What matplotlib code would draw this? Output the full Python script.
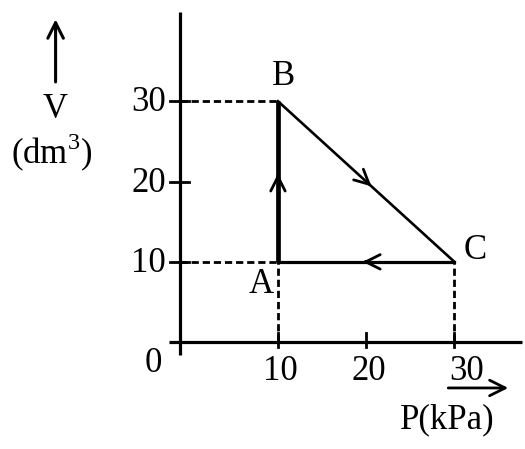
import matplotlib
matplotlib.use("Agg")
import matplotlib.pyplot as plt

# Cycle A -> B -> C -> A  (P in kPa, V in dm3)
STATES = ["A", "B", "C"]
P_VALS = [10, 10, 30]
V_VALS = [10, 30, 10]
P_TICKS = [10, 20, 30]
V_TICKS = [10, 20, 30]

FONT = "Liberation Serif"
FS = 25
K = "black"

plt.rcParams["mathtext.fontset"] = "custom"
plt.rcParams["mathtext.rm"] = FONT

fig = plt.figure(figsize=(5.25, 4.49), dpi=100)
fig.patch.set_facecolor("white")
ax = fig.add_axes([0, 0, 1, 1])
ax.set_xlim(-21.5, 38.0)
ax.set_ylim(-13.3, 42.6)
ax.axis("off")

# axes lines
ax.plot([-1.1, -1.1], [-1.6, 41.1], color=K, lw=2.3, solid_capstyle="butt")
ax.plot([-2.4, 37.7], [0, 0], color=K, lw=2.3, solid_capstyle="butt")
for v in V_TICKS:
    ax.plot([-2.2, -0.1], [v, v], color=K, lw=2.0)
    ax.text(-2.7, v - 0.2, str(v), ha="right", va="center", fontsize=FS, family=FONT)
for p in P_TICKS:
    ax.plot([p, p], [-0.6, 1.2], color=K, lw=2.0)
    ax.text(p + (0.3 if p < 30 else 1.4), -3.6, str(p), ha="center", va="center",
            fontsize=FS, family=FONT)
ax.text(-4.1, -2.6, "0", ha="center", va="center", fontsize=FS, family=FONT)

# dashed guide lines
pA, pB, pC = P_VALS
vA, vB, vC = V_VALS
dash = dict(color=K, lw=2.0, ls=(0, (2.6, 1.4)))
ax.plot([-1.1, pB], [vB, vB], **dash)
ax.plot([-1.1, pA], [vA, vA], **dash)
ax.plot([pA, pA], [0, vA], **dash)
ax.plot([pC, pC], [0, vC], **dash)

# process path
ax.plot([pA, pB], [vA, vB], color=K, lw=3.4, solid_capstyle="butt")
ax.plot([pB, pC], [vB, vC], color=K, lw=1.9)
ax.plot([pC, pA], [vC, vA], color=K, lw=2.3)

# direction chevrons
def chevron(x0, y0, x1, y1, f):
    xm = x0 + (x1 - x0) * f
    ym = y0 + (y1 - y0) * f
    dx = (x1 - x0) * 0.02
    dy = (y1 - y0) * 0.02
    ax.annotate("", xy=(xm, ym), xytext=(xm - dx, ym - dy),
                arrowprops=dict(arrowstyle="->", color=K, lw=2.0,
                                mutation_scale=26, shrinkA=0, shrinkB=0))

chevron(pA, vA, pB, vB, 0.55)
chevron(pB, vB, pC, vC, 0.53)
chevron(pC, vC, pA, vA, 0.52)

# state labels
ax.text(10.6, 33.1, "B", ha="center", va="center", fontsize=FS, family=FONT)
ax.text(32.4, 11.4, "C", ha="center", va="center", fontsize=FS, family=FONT)
ax.text(8.1, 7.2, "A", ha="center", va="center", fontsize=FS, family=FONT)

# axis titles with arrows
ax.annotate("", xy=(-15.2, 40.2), xytext=(-15.2, 32.4),
            arrowprops=dict(arrowstyle="->", color=K, lw=2.2, mutation_scale=28,
                            shrinkA=0, shrinkB=0))
ax.text(-15.2, 29.0, "V", ha="center", va="center", fontsize=FS, family=FONT)
ax.text(-15.6, 23.6, r"(dm$^{3}$)", ha="center", va="center", fontsize=FS, family=FONT)

ax.annotate("", xy=(36.1, -5.7), xytext=(29.3, -5.7),
            arrowprops=dict(arrowstyle="->", color=K, lw=2.0, mutation_scale=28,
                            shrinkA=0, shrinkB=0))
ax.text(29.2, -9.7, "P(kPa)", ha="center", va="center", fontsize=FS, family=FONT)

fig.savefig("out.png", dpi=100)
